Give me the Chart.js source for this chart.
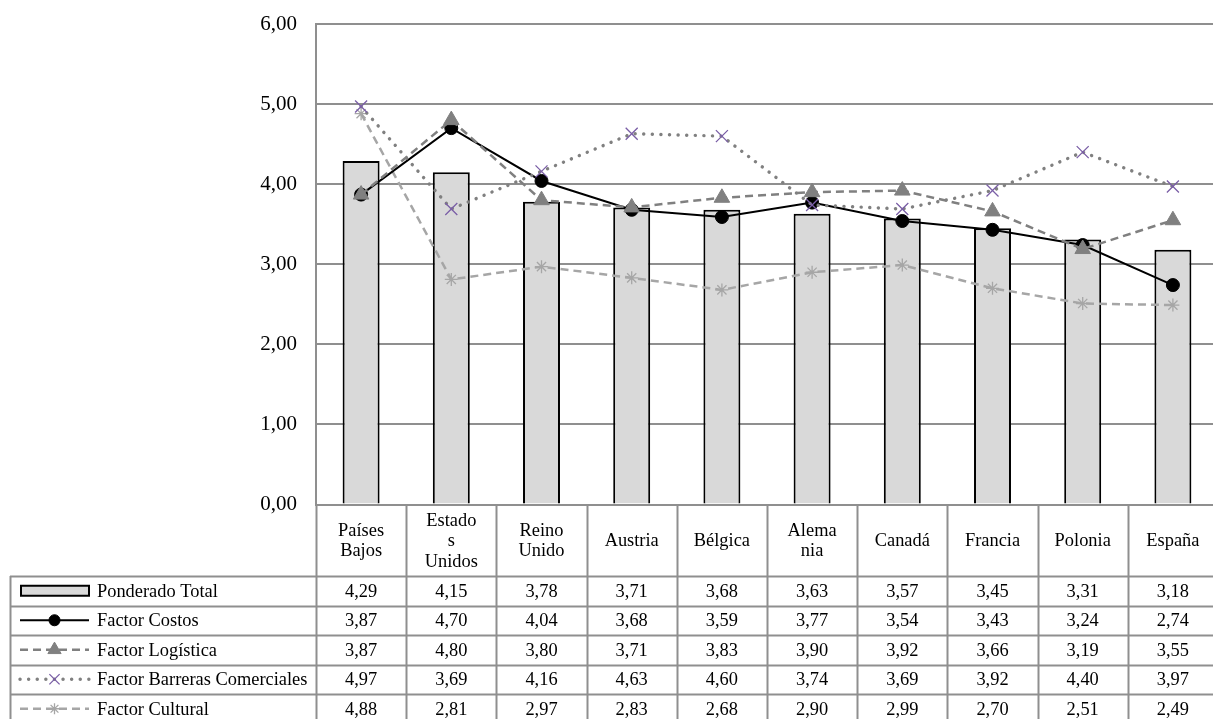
<!DOCTYPE html>
<html>
<head>
<meta charset="utf-8">
<script src="https://cdn.jsdelivr.net/npm/chart.js@4/dist/chart.umd.min.js"></script>
<style>
  html, body { margin: 0; padding: 0; background: #fff; overflow: hidden; }
  #wrap { width: 1228px; height: 740px; }
</style>
</head>
<body>
<div id="wrap"><canvas id="c" width="1228" height="740"></canvas></div>
<script>
// Countries (wrapped as they appear in the data table header)
const categories = [
  ['Países', 'Bajos'], ['Estado', 's', 'Unidos'], ['Reino', 'Unido'], ['Austria'], ['Bélgica'],
  ['Alema', 'nia'], ['Canadá'], ['Francia'], ['Polonia'], ['España']
];
const seriesNames = ['Ponderado Total', 'Factor Costos', 'Factor Logística', 'Factor Barreras Comerciales', 'Factor Cultural'];
const ponderadoTotal  = [4.29, 4.15, 3.78, 3.71, 3.68, 3.63, 3.57, 3.45, 3.31, 3.18];
const factorCostos    = [3.87, 4.70, 4.04, 3.68, 3.59, 3.77, 3.54, 3.43, 3.24, 2.74];
const factorLogistica = [3.87, 4.80, 3.80, 3.71, 3.83, 3.90, 3.92, 3.66, 3.19, 3.55];
const factorBarreras  = [4.97, 3.69, 4.16, 4.63, 4.60, 3.74, 3.69, 3.92, 4.40, 3.97];
const factorCultural  = [4.88, 2.81, 2.97, 2.83, 2.68, 2.90, 2.99, 2.70, 2.51, 2.49];
const yTickLabels = ['0,00', '1,00', '2,00', '3,00', '4,00', '5,00', '6,00'];

const FONT = '"Liberation Serif", "Times New Roman", serif';
const GRID = '#8f8f8f';
const fmt = v => v.toFixed(2).replace('.', ',');

// Data table drawn beneath the plot, aligned to the category scale
const dataTable = {
  id: 'dataTable',
  afterDraw(chart) {
    const ctx = chart.ctx;
    const area = chart.chartArea;
    const xs = chart.scales.x;
    const n = categories.length;
    const colW = area.width / n;
    const headTop = area.bottom;
    const headBottom = 576;
    const rowH = 29.5;
    const legendLeft = 10;
    const H = chart.height;
    const W = chart.width;

    ctx.save();
    ctx.strokeStyle = GRID;
    ctx.lineWidth = 2;

    // vertical column separators
    for (let i = 0; i <= n; i++) {
      const x = Math.round(area.left + i * colW) + 0.5;
      ctx.beginPath();
      ctx.moveTo(x, headTop);
      ctx.lineTo(x, H);
      ctx.stroke();
    }
    // legend column left edge
    ctx.beginPath();
    ctx.moveTo(legendLeft + 0.5, headBottom);
    ctx.lineTo(legendLeft + 0.5, H);
    ctx.stroke();
    // horizontal row lines
    for (let r = 0; r <= seriesNames.length; r++) {
      const y = Math.round(headBottom + r * rowH) + 0.5;
      ctx.beginPath();
      ctx.moveTo(legendLeft, y);
      ctx.lineTo(W, y);
      ctx.stroke();
    }

    // header texts
    ctx.fillStyle = '#000';
    ctx.font = '18.4px ' + FONT;
    ctx.textAlign = 'center';
    ctx.textBaseline = 'middle';
    const lh = 20.5;
    const headMid = (headTop + headBottom) / 2 + 1;
    categories.forEach((lines, i) => {
      const cx = xs.getPixelForValue(i);
      const y0 = headMid - (lines.length - 1) * lh / 2;
      lines.forEach((t, k) => ctx.fillText(t, cx, y0 + k * lh));
    });

    // rows: legend key + values
    const datasets = chart.data.datasets;
    datasets.forEach((ds, r) => {
      const yMid = headBottom + r * rowH + rowH / 2;
      // key symbol
      const kx0 = 20, kx1 = 89, kxm = 54.5;
      if (ds.type === 'bar') {
        ctx.fillStyle = ds.backgroundColor;
        ctx.strokeStyle = ds.borderColor;
        ctx.lineWidth = 2;
        ctx.fillRect(21, yMid - 5, 68, 10);
        ctx.strokeRect(21, yMid - 5, 68, 10);
      } else {
        ctx.save();
        ctx.strokeStyle = ds.borderColor;
        ctx.lineWidth = ds.borderWidth;
        ctx.setLineDash(ds.borderDash || []);
        ctx.lineCap = ds.borderCapStyle || 'butt';
        ctx.beginPath();
        ctx.moveTo(kx0, yMid);
        ctx.lineTo(kx1, yMid);
        ctx.stroke();
        ctx.restore();
        ctx.save();
        ctx.fillStyle = ds.pointBackgroundColor;
        ctx.strokeStyle = ds.pointBorderColor;
        ctx.lineWidth = ds.pointBorderWidth;
        Chart.helpers.drawPoint(ctx, {
          pointStyle: ds.pointStyle, radius: ds.pointRadius * 0.85,
          rotation: 0, borderWidth: ds.pointBorderWidth
        }, kxm, yMid);
        ctx.restore();
      }
      ctx.fillStyle = '#000';
      ctx.textAlign = 'left';
      ctx.fillText(seriesNames[r], 97, yMid + 1);
      ctx.textAlign = 'center';
      ds.data.forEach((v, i) => {
        ctx.fillText(fmt(v), xs.getPixelForValue(i), yMid + 1);
      });
    });
    ctx.restore();
  }
};

new Chart(document.getElementById('c'), {
  data: {
    labels: categories,
    datasets: [
      {
        type: 'bar', label: seriesNames[0], data: ponderadoTotal,
        backgroundColor: '#d9d9d9', borderColor: '#000', borderWidth: 2,
        categoryPercentage: 1, barPercentage: 0.41, order: 10
      },
      {
        type: 'line', label: seriesNames[1], data: factorCostos,
        borderColor: '#000', borderWidth: 2, tension: 0,
        pointStyle: 'circle', pointRadius: 6.5,
        pointBackgroundColor: '#000', pointBorderColor: '#000', pointBorderWidth: 1, order: 3
      },
      {
        type: 'line', label: seriesNames[2], data: factorLogistica,
        borderColor: '#808080', borderWidth: 2.5, borderDash: [8, 5], tension: 0,
        pointStyle: 'triangle', pointRadius: 9,
        pointBackgroundColor: '#808080', pointBorderColor: '#808080', pointBorderWidth: 1, order: 2
      },
      {
        type: 'line', label: seriesNames[3], data: factorBarreras,
        borderColor: '#808080', borderWidth: 3.4, borderDash: [0.1, 8.5], borderCapStyle: 'round', tension: 0,
        pointStyle: 'crossRot', pointRadius: 8.5,
        pointBackgroundColor: '#7a5ea6', pointBorderColor: '#7a5ea6', pointBorderWidth: 1.3, order: 1
      },
      {
        type: 'line', label: seriesNames[4], data: factorCultural,
        borderColor: '#a6a6a6', borderWidth: 2.5, borderDash: [8, 5], tension: 0,
        pointStyle: 'star', pointRadius: 6.5,
        pointBackgroundColor: '#a6a6a6', pointBorderColor: '#a6a6a6', pointBorderWidth: 1.3, order: 4
      }
    ]
  },
  options: {
    responsive: false,
    animation: false,
    devicePixelRatio: 1,
    layout: { padding: { left: 0, right: 0, top: 24, bottom: 235.5 } },
    plugins: { legend: { display: false }, tooltip: { enabled: false } },
    scales: {
      x: {
        type: 'category',
        offset: true,
        grid: { display: false },
        border: { display: false },
        ticks: { display: false },
        afterFit: s => { s.height = 0; }
      },
      y: {
        min: 0, max: 6,
        ticks: {
          stepSize: 1,
          color: '#000',
          padding: 19,
          font: { family: FONT, size: 21 },
          callback: (v) => yTickLabels[Math.round(v)]
        },
        grid: { color: GRID, lineWidth: 2, drawTicks: false },
        border: { display: true, color: GRID, width: 2 },
        afterFit: s => { s.width = 316; s.paddingTop = 0; s.paddingBottom = 0; }
      }
    }
  },
  plugins: [dataTable]
});
</script>
</body>
</html>
